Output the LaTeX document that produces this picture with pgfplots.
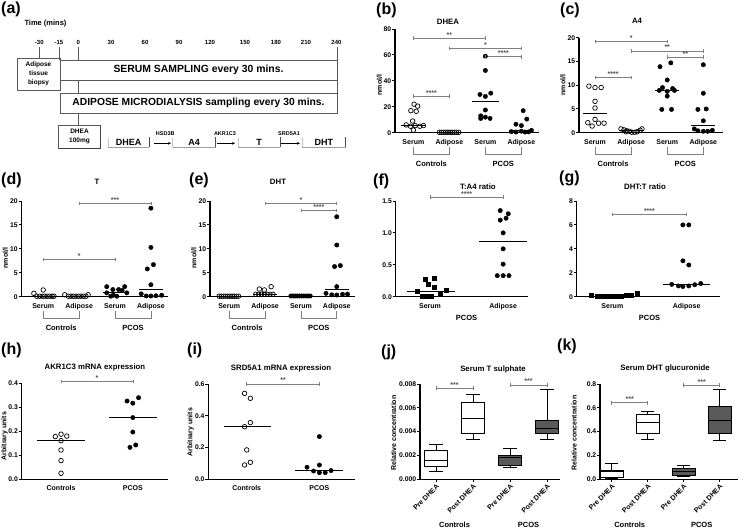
\documentclass[border=0pt]{standalone}
\usepackage{fontspec}
\setmainfont{Liberation Sans}
\usepackage{pgfplots}
\pgfplotsset{compat=1.18}
\usepgfplotslibrary{statistics}
\usetikzlibrary{arrows.meta}

\newcommand\fs[1]{\fontsize{#1}{#1}\selectfont\bfseries}

\pgfplotsset{
 gp/.style={scale only axis, anchor=south west, axis lines=left, axis line style={line width=1.1pt,-},
   clip=false, tick align=outside, major tick length=3pt, ytick style={line width=0.9pt,black},
   xtick style={draw=none}, tick label style={font=\fs{7}}, yticklabel style={font=\fs{6.8}, inner sep=0.6pt},
   /pgf/number format/assume math mode=true,
   ymin=0, xtick={1,2,3,4}, scaled y ticks=false},
 bxax/.style={xtick style={draw=black, line width=0.9pt}, boxplot/draw direction=y,
   xticklabels={Pre DHEA,Post DHEA,Pre DHEA,Post DHEA}, xticklabel style={rotate=45, anchor=north east, inner sep=1pt}},
 oc/.style={only marks, mark=o, mark size=2.3pt, black, line width=0.7pt},
 fc/.style={only marks, mark=*, mark size=2.2pt, black},
 sq/.style={only marks, mark=square*, mark size=2pt, black},
 med/.style={black, line width=0.9pt, no marks},
 sigl/.style={gray, line width=0.6pt, mark=|, mark size=1.8pt, mark options={gray, line width=0.6pt}},
 bx/.style={draw=black, line width=0.9pt, solid},
 fx1/.style={yticklabel style={/pgf/number format/.cd,fixed,fixed zerofill,precision=1}},
}
\tikzset{sigt/.style={font=\fs{7}, text=black!70, anchor=south, inner sep=0.8pt},
 brk/.style={gray, line width=0.6pt}, dg/.style={draw=gray!70!black, line width=0.8pt},
 yl/.style={rotate=90, font=\fs{7}, inner sep=0pt}}

\newcommand\sig[5]{\addplot[sigl] coordinates {(#1,#3) (#2,#3)}; \node[sigt] at (axis cs:#4,#3) {#5};}
\newcommand\grp[4]{\draw[brk] ([yshift=-14pt]axis cs:#1,0) -- ([yshift=-22pt]axis cs:#1,0) -- ([yshift=-22pt]axis cs:#2,0) -- ([yshift=-14pt]axis cs:#2,0);
 \node[font=\fs{7.5}] at ([yshift=-31pt]axis cs:#3,0) {#4};}

\begin{document}
\begin{tikzpicture}
\useasboundingbox (0,0) rectangle (739pt,530pt);

% ---------------- (b) DHEA
\begin{axis}[gp, at={(395pt,397.3pt)}, width=143.5pt, height=103.7pt, xmin=0.49, xmax=4.476, ymax=80,
  ytick={0,20,40,60,80}, xticklabels={Serum,Adipose,Serum,Adipose}]
\addplot[oc] coordinates {(1.02,22) (1.12,20.5) (0.93,17) (1.08,16.5) (0.98,9) (0.80,6) (0.92,5) (1.05,5.5) (1.18,5) (1.28,5.5) (1.0,2)};
\addplot[med] coordinates {(0.67,5.8) (1.33,5.8)};
\addplot[oc] coordinates {(1.72,0.3) (1.78,0.3) (1.84,0.3) (1.9,0.3) (1.96,0.3) (2.02,0.3) (2.08,0.3) (2.14,0.3) (2.2,0.3) (2.26,0.3)};
\addplot[med] coordinates {(1.67,0.3) (2.33,0.3)};
\addplot[fc] coordinates {(3,59) (3,48) (2.85,29.5) (3.0,28) (3.15,30.5) (3.0,17.5) (2.87,13) (3.0,12) (2.87,11) (3.13,11)};
\addplot[med] coordinates {(2.63,24) (3.37,24)};
\addplot[fc] coordinates {(4.05,17) (4.15,10.5) (3.85,6.5) (4.0,5.5) (4.28,1.8) (4.0,1.2) (3.72,0.8) (3.85,0.5) (4.1,0.5) (4.2,0.6)};
\addplot[med] coordinates {(3.67,1.5) (4.33,1.5)};
\sig{1}{3}{73}{2}{**}
\sig{2}{4}{65}{3}{*}
\sig{3}{4}{58.6}{3.5}{****}
\sig{1}{2}{28.3}{1.5}{****}
\grp{1}{2}{1.5}{Controls}
\grp{3}{4}{3.5}{PCOS}
\end{axis}

% ---------------- (c) A4
\begin{axis}[gp, at={(579pt,397.3pt)}, width=143.7pt, height=95pt, xmin=0.556, xmax=4.537, ymax=20,
  ytick={0,5,10,15,20}, xticklabels={Serum,Adipose,Serum,Adipose}]
\addplot[oc] coordinates {(0.83,9.8) (1.0,9.5) (1.17,9.5) (1.0,6.6) (1.0,5.2) (1.0,2.8) (0.8,2.1) (1.1,2.0) (1.25,2.0) (0.92,1.4)};
\addplot[med] coordinates {(0.67,4.0) (1.33,4.0)};
\addplot[oc] coordinates {(1.72,0.8) (1.8,0.6) (1.88,0.4) (1.95,0.3) (2.02,0.1) (2.1,0.1) (2.17,0.2) (2.25,0.5) (2.3,0.8) (1.85,0.2)};
\addplot[med] coordinates {(1.67,0.4) (2.33,0.4)};
\addplot[fc] coordinates {(2.8,13.9) (3.1,14.7) (3.0,11.1) (2.87,9.5) (3.15,9.3) (2.78,8.9) (3.0,8.7) (3.2,8.9) (3.0,7.7) (2.85,4.9) (3.12,4.9)};
\addplot[med] coordinates {(2.67,8.9) (3.33,8.9)};
\addplot[fc] coordinates {(4.0,14.3) (4.0,8.3) (3.85,4.9) (4.08,5.0) (4.0,2.5) (3.75,0.8) (3.85,0.4) (4.0,0.3) (4.12,0.3) (4.25,0.5)};
\addplot[med] coordinates {(3.67,1.6) (4.33,1.6)};
\sig{1}{3}{19.2}{2}{*}
\sig{2}{4}{17.2}{3}{**}
\sig{3}{4}{15.9}{3.5}{**}
\sig{1}{2}{11.6}{1.5}{****}
\grp{1}{2}{1.5}{Controls}
\grp{3}{4}{3.5}{PCOS}
\end{axis}

% ---------------- (d) T
\begin{axis}[gp, at={(21.5pt,233.3pt)}, width=146.5pt, height=95.7pt, xmin=0.395, xmax=4.476, ymax=20,
  ytick={0,5,10,15,20}, xticklabels={Serum,Adipose,Serum,Adipose}]
\addplot[oc] coordinates {(0.74,0.7) (1.0,1.4) (0.82,0.1) (0.9,0.1) (0.97,0.1) (1.04,0.1) (1.11,0.1) (1.18,0.1) (1.25,0.1) (1.3,0.1)};
\addplot[med] coordinates {(0.67,0.05) (1.33,0.05)};
\addplot[oc] coordinates {(1.6,0.4) (2.25,0.4) (1.7,0.1) (1.77,0.1) (1.84,0.1) (1.91,0.1) (1.98,0.1) (2.05,0.1) (2.12,0.1) (2.19,0.1)};
\addplot[med] coordinates {(1.67,0.05) (2.33,0.05)};
\addplot[fc] coordinates {(2.77,2.1) (3.27,2.1) (2.94,1.5) (3.1,1.5) (3.2,1.3) (2.77,0.8) (3.33,0.8) (2.88,0.1) (3.05,0.1) (2.95,0.3)};
\addplot[med] coordinates {(2.67,0.9) (3.33,0.9)};
\addplot[fc] coordinates {(4.0,18.5) (4.0,10.3) (3.9,5.8) (4.07,6.7) (4.0,2.5) (3.73,0.6) (3.87,0.15) (4.0,0.15) (4.14,0.2) (4.3,0.3)};
\addplot[med] coordinates {(3.67,1.6) (4.33,1.6)};
\sig{2}{4}{19.5}{3}{***}
\sig{1}{3}{7.8}{2}{*}
\grp{1}{2}{1.5}{Controls}
\grp{3}{4}{3.5}{PCOS}
\end{axis}

% ---------------- (e) DHT
\begin{axis}[gp, at={(210pt,233.3pt)}, width=145pt, height=95.7pt, xmin=0.464, xmax=4.509, ymax=20,
  ytick={0,5,10,15,20}, xticklabels={Serum,Adipose,Serum,Adipose}]
\addplot[oc] coordinates {(0.72,0.1) (0.78,0.1) (0.84,0.1) (0.9,0.1) (0.96,0.1) (1.02,0.1) (1.08,0.1) (1.14,0.1) (1.2,0.1) (1.26,0.1)};
\addplot[med] coordinates {(0.67,0.05) (1.33,0.05)};
\addplot[oc] coordinates {(1.84,1.6) (1.98,1.4) (2.17,2.1) (1.74,0.5) (1.82,0.5) (1.9,0.5) (1.98,0.5) (2.06,0.5) (2.14,0.5) (2.22,0.5)};
\addplot[med] coordinates {(1.67,0.45) (2.33,0.45)};
\addplot[fc] coordinates {(2.72,0.15) (2.78,0.15) (2.84,0.15) (2.9,0.15) (2.96,0.15) (3.02,0.15) (3.08,0.15) (3.14,0.15) (3.2,0.15) (3.26,0.15)};
\addplot[med] coordinates {(2.67,0.15) (3.33,0.15)};
\addplot[fc] coordinates {(4.0,16.7) (4.0,10.8) (3.94,6.3) (4.1,6.5) (4.0,2.1) (3.7,0.7) (3.86,0.4) (4.0,0.35) (4.16,0.5) (4.3,0.55)};
\addplot[med] coordinates {(3.67,1.5) (4.33,1.5)};
\sig{2}{4}{19.5}{3}{*}
\sig{3}{4}{18.0}{3.5}{****}
\grp{1}{2}{1.5}{Controls}
\grp{3}{4}{3.5}{PCOS}
\end{axis}

% ---------------- (f) T:A4 ratio
\begin{axis}[gp, fx1, at={(395.7pt,233.3pt)}, width=132.3pt, height=95.7pt, xmin=0.53, xmax=2.34, ymax=1.5,
  ytick={0,0.5,1,1.5}, xtick={1,2}, xticklabels={Serum,Adipose}]
\addplot[sq] coordinates {(0.93,0.28) (1.06,0.29) (0.98,0.2) (1.06,0.15) (0.82,0.08) (1.22,0.1) (0.89,0.01) (0.95,0.01) (1.02,0.01) (1.14,0.04)};
\addplot[med] coordinates {(0.68,0.09) (1.34,0.09)};
\addplot[fc] coordinates {(1.96,1.35) (2.07,1.30) (1.96,1.2) (2.04,1.23) (2.0,1.0) (2.0,0.75) (2.0,0.51) (1.92,0.33) (2.0,0.33) (2.08,0.33)};
\addplot[med] coordinates {(1.67,0.87) (2.33,0.87)};
\sig{1}{2}{1.56}{1.5}{****}
\node[font=\fs{7.5}] at ([yshift=-21pt]axis cs:1.5,0) {PCOS};
\end{axis}

% ---------------- (g) DHT:T ratio
\begin{axis}[gp, at={(576.7pt,233.3pt)}, width=143.3pt, height=95.7pt, xmin=0.52, xmax=2.45, ymax=8,
  ytick={0,2,4,6,8}, xtick={1,2}, xticklabels={Serum,Adipose}]
\addplot[sq] coordinates {(0.72,0.15) (0.79,0.05) (0.86,0.0) (0.92,0.0) (0.99,0.0) (1.05,0.05) (1.12,0.05) (1.18,0.1) (1.25,0.1) (1.33,0.33)};
\addplot[med] coordinates {(0.68,0.05) (1.32,0.05)};
\addplot[fc] coordinates {(1.95,6.0) (2.03,6.0) (1.95,3.0) (2.03,2.65) (1.8,1.03) (1.89,0.9) (1.95,0.85) (2.03,0.9) (2.11,1.0) (2.19,1.1)};
\addplot[med] coordinates {(1.68,1.03) (2.31,1.03)};
\sig{1}{2}{6.88}{1.5}{****}
\node[font=\fs{7.5}] at ([yshift=-21pt]axis cs:1.5,0) {PCOS};
\end{axis}

% ---------------- (h) AKR1C3
\begin{axis}[gp, fx1, at={(21.7pt,50.7pt)}, width=146.3pt, height=96pt, xmin=0.452, xmax=2.49, ymax=0.4,
  ytick={0,0.1,0.2,0.3,0.4}, xtick={1,2}, xticklabels={Controls,PCOS}]
\addplot[oc] coordinates {(0.92,0.178) (1.0,0.188) (1.08,0.18) (1.0,0.161) (1.0,0.122) (1.0,0.078) (1.0,0.025)};
\addplot[med] coordinates {(0.67,0.161) (1.33,0.161)};
\addplot[fc] coordinates {(1.92,0.326) (2.0,0.317) (2.08,0.34) (2.0,0.257) (2.0,0.197) (1.96,0.133) (2.04,0.143)};
\addplot[med] coordinates {(1.67,0.257) (2.33,0.257)};
\sig{1}{2}{0.407}{1.5}{*}
\end{axis}

% ---------------- (i) SRD5A1
\begin{axis}[gp, fx1, at={(208.3pt,50.7pt)}, width=146.7pt, height=95.3pt, xmin=0.471, xmax=2.49, ymax=0.6,
  ytick={0,0.2,0.4,0.6}, xtick={1,2}, xticklabels={Controls,PCOS}]
\addplot[oc] coordinates {(0.97,0.541) (1.05,0.51) (1.05,0.357) (0.97,0.331) (1.0,0.185) (0.97,0.09) (1.05,0.107)};
\addplot[med] coordinates {(0.69,0.331) (1.34,0.331)};
\addplot[fc] coordinates {(2.0,0.269) (2.0,0.09) (1.83,0.076) (1.92,0.052) (2.0,0.042) (2.08,0.042) (2.16,0.055)};
\addplot[med] coordinates {(1.67,0.055) (2.33,0.055)};
\sig{1}{2}{0.6}{1.5}{**}
\end{axis}

% ---------------- (j) Serum T sulphate (values in units of 0.001)
\begin{axis}[gp, bxax, at={(420pt,50.7pt)}, width=140pt, height=95.3pt, xmin=0.568, xmax=4.35, ymax=8,
  ytick={0,2,4,6,8}, yticklabels={0.000,0.002,0.004,0.006,0.008}]
\addplot[bx, fill=white, boxplot prepared={draw position=1, lower whisker=0.70, lower quartile=1.06, median=1.57, upper quartile=2.38, upper whisker=2.96, box extend=0.64, whisker extend=0.36}] coordinates {};
\addplot[bx, fill=white, boxplot prepared={draw position=2, lower whisker=3.36, lower quartile=3.86, median=5.12, upper quartile=6.46, upper whisker=7.13, box extend=0.64, whisker extend=0.36}] coordinates {};
\addplot[bx, fill=black!65, boxplot prepared={draw position=3, lower whisker=1.0, lower quartile=1.2, median=1.85, upper quartile=2.04, upper whisker=2.57, box extend=0.64, whisker extend=0.36}] coordinates {};
\addplot[bx, fill=black!65, boxplot prepared={draw position=4, lower whisker=3.36, lower quartile=3.86, median=4.28, upper quartile=4.9, upper whisker=7.55, box extend=0.64, whisker extend=0.36}] coordinates {};
\sig{1}{2}{7.64}{1.5}{***}
\sig{3}{4}{7.92}{3.5}{***}
\node[font=\fs{7.5}] at ([yshift=-46pt]axis cs:1.5,0) {Controls};
\node[font=\fs{7.5}] at ([yshift=-46pt]axis cs:3.5,0) {PCOS};
\end{axis}

% ---------------- (k) Serum DHT glucuronide
\begin{axis}[gp, bxax, fx1, at={(600pt,50.7pt)}, width=138pt, height=95.3pt, xmin=0.675, xmax=4.51, ymax=0.8,
  ytick={0,0.2,0.4,0.6,0.8}]
\addplot[bx, fill=white, boxplot prepared={draw position=1, lower whisker=0.005, lower quartile=0.017, median=0.064, upper quartile=0.078, upper whisker=0.129, box extend=0.64, whisker extend=0.36}] coordinates {};
\addplot[bx, fill=white, boxplot prepared={draw position=2, lower whisker=0.338, lower quartile=0.386, median=0.478, upper quartile=0.545, upper whisker=0.573, box extend=0.64, whisker extend=0.36}] coordinates {};
\addplot[bx, fill=black!65, boxplot prepared={draw position=3, lower whisker=0.028, lower quartile=0.036, median=0.07, upper quartile=0.087, upper whisker=0.12, box extend=0.64, whisker extend=0.36}] coordinates {};
\addplot[bx, fill=black!65, boxplot prepared={draw position=4, lower whisker=0.324, lower quartile=0.386, median=0.49, upper quartile=0.61, upper whisker=0.755, box extend=0.64, whisker extend=0.36}] coordinates {};
\sig{1}{2}{0.643}{1.5}{***}
\sig{3}{4}{0.79}{3.5}{***}
\node[font=\fs{7.5}] at ([yshift=-46pt]axis cs:1.5,0) {Controls};
\node[font=\fs{7.5}] at ([yshift=-46pt]axis cs:3.5,0) {PCOS};
\end{axis}

% ---------------- annotations in pixel coordinates
\begin{scope}[yshift=530pt, x=1pt, y=-1pt]
 \foreach \x/\y/\l in {1/9.5/a, 376/10/b, 560/10/c, 1/180/d, 189/180/e, 373/181/f, 559/178/g, 1/350/h, 187/350/i, 381/352/j, 557/346/k}
   \node[anchor=west, font=\fs{16}, inner sep=0pt] at (\x,\y) {(\l)};
 % y labels
 \node[yl] at (379.5,85) {nmol/l};
 \node[yl] at (563,85) {nmol/l};
 \node[yl] at (5.5,258) {nmol/l};
 \node[yl] at (194,258) {nmol/l};
 \node[yl] at (4.5,436) {Arbitrary units};
 \node[yl] at (190.5,432) {Arbitrary units};
 \node[yl] at (393.5,433) {Relative concentration};
 \node[yl] at (574,433) {Relative concentration};
 % titles
 \node[font=\fs{7.8}] at (448,22) {DHEA};
 \node[font=\fs{7.8}] at (637,21) {A4};
 \node[font=\fs{7.8}] at (97,182) {T};
 \node[font=\fs{7.8}] at (278,182) {DHT};
 \node[font=\fs{7.8}] at (478,187) {T:A4 ratio};
 \node[font=\fs{7.8}] at (645,187) {DHT:T ratio};
 \node[font=\fs{7.8}] at (95,367) {AKR1C3 mRNA expression};
 \node[font=\fs{7.8}] at (281,368) {SRD5A1 mRNA expression};
 \node[font=\fs{7.8}] at (493,369) {Serum T sulphate};
 \node[font=\fs{7.8}] at (665,369) {Serum DHT glucuronide};
 % (a) diagram
 \node[anchor=west, font=\fs{7.5}] at (21,24) {Time (mins)};
 \foreach \x/\l in {39.3/-30, 59/-15, 78.3/0, 111/30, 145/60, 179/90, 210/120, 245/150, 276/180, 306/210, 336.5/240}
   \node[font=\fs{6}] at (\x,42) {\l};
 \draw[dg] (39.3,47)--(39.3,58) (59,47)--(59,60) (78.3,47)--(78.3,60) (337,47)--(337,60);
 \draw[dg] (78.3,80)--(78.3,93) (78.3,113)--(78.3,125) (337,80)--(337,93);
 \draw[dg] (17,58) rectangle (60,90);
 \node[font=\fontsize{6.5}{9}\selectfont\bfseries, align=center] at (38.5,74) {Adipose\\tissue\\biopsy};
 \draw[dg] (60,60) rectangle (337,80);
 \node[font=\fs{10.4}] at (198.5,70) {SERUM SAMPLING every 30 mins.};
 \draw[dg] (60,93) rectangle (337,113);
 \node[font=\fs{10.3}] at (198.5,103) {ADIPOSE MICRODIALYSIS sampling every 30 mins.};
 \draw[dg, fill=white] (58.5,125) rectangle (100.5,148.5);
 \draw[black!75, line width=1pt] (58.5,148.5)--(100.5,148.5)--(100.5,125);
 \node[font=\fontsize{6.5}{9}\selectfont\bfseries, align=center] at (79.5,136.8) {DHEA\\100mg};
 \foreach \a/\b/\t in {108/149.3/DHEA, 172.7/215.7/A4, 238/280/T, 302/345.7/DHT} {
   \draw[gray!45, line width=0.7pt] (\a,138.5)--(\a,147);
   \draw[gray!75, line width=0.8pt] (\a,147)--(\b,147);
   \draw[black!70, line width=0.9pt] (\b,136.7)--(\b,147);
   \node[font=\fs{9}] at ({(\a+\b)/2},142.6) {\t};
 }
 \foreach \a/\b/\x/\t in {154/171/165.3/HSD3B, 217/235/225/AKR1C3, 281/300/289/SRD5A1} {
   \draw[-{Stealth[length=3pt,width=2.6pt]}, line width=0.7pt] (\a,143.3)--(\b,143.3);
   \node[font=\fs{5.5}] at (\x,133.3) {\t};
 }
\end{scope}
\end{tikzpicture}
\end{document}
